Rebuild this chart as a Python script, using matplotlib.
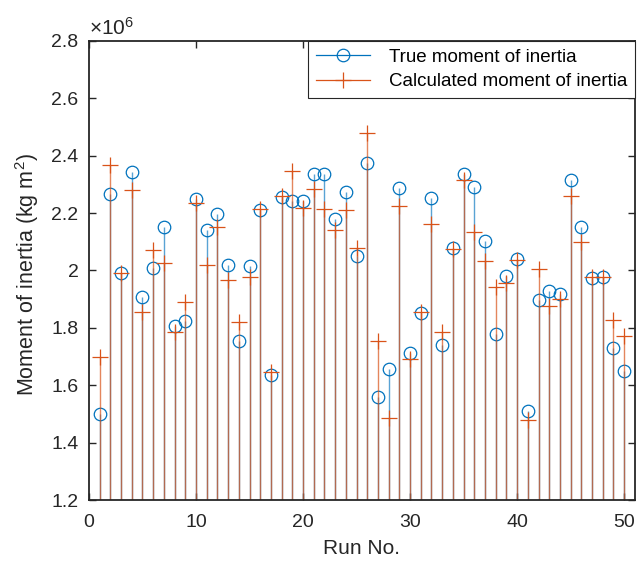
import matplotlib
matplotlib.use('Agg')
import matplotlib.pyplot as plt
from matplotlib.lines import Line2D
from matplotlib.legend_handler import HandlerLine2D
from matplotlib.ticker import FuncFormatter
import numpy as np

plt.rcParams['font.family'] = ['Liberation Sans', 'DejaVu Sans']
plt.rcParams['mathtext.fontset'] = 'custom'
plt.rcParams['mathtext.rm'] = 'Liberation Sans'
plt.rcParams['mathtext.it'] = 'Liberation Sans:italic'

# values in units of 10^6 kg m^2
run_no = list(range(1, 51))
true_inertia = [1.500, 2.268, 1.992, 2.345, 1.907, 2.008, 2.151, 1.807, 1.824, 2.250,
                2.141, 2.196, 2.020, 1.755, 2.016, 2.210, 1.635, 2.256, 2.241, 2.241,
                2.336, 2.336, 2.178, 2.274, 2.052, 2.376, 1.559, 1.657, 2.287, 1.714,
                1.851, 2.252, 1.739, 2.077, 2.335, 2.292, 2.104, 1.780, 1.982, 2.041,
                1.510, 1.897, 1.929, 1.918, 2.314, 2.152, 1.975, 1.979, 1.729, 1.651]
calc_inertia = [1.700, 2.367, 1.992, 2.281, 1.855, 2.072, 2.027, 1.787, 1.891, 2.236,
                2.019, 2.152, 1.967, 1.822, 1.976, 2.214, 1.647, 2.259, 2.348, 2.217,
                2.285, 2.213, 2.141, 2.210, 2.080, 2.478, 1.753, 1.485, 2.225, 1.693,
                1.857, 2.161, 1.787, 2.075, 2.316, 2.133, 2.034, 1.944, 1.955, 2.037,
                1.479, 2.005, 1.877, 1.901, 2.261, 2.101, 1.976, 1.976, 1.827, 1.773]

BLUE = '#0072BD'
ORANGE = '#D95319'
AXIS_GREY = '#262626'


class HandlerMarkerAtEnd(HandlerLine2D):
    # MATLAB style legend: line with the marker at its right end
    def get_xdata(self, legend, xdescent, ydescent, width, height, fontsize):
        xdata, _ = super().get_xdata(legend, xdescent, ydescent, width, height, fontsize)
        return xdata, [xdata[-1]]


fig = plt.figure(figsize=(6.4, 5.66), dpi=100)
ax = fig.add_axes([0.139, 0.1166, 0.853, 0.811])

ax.vlines(run_no, 0, true_inertia, color=BLUE, linewidth=1.0, alpha=0.65)
ax.plot(run_no, true_inertia, linestyle='none', marker='o', markersize=9,
        markerfacecolor='none', markeredgecolor=BLUE, markeredgewidth=0.9)
ax.vlines(run_no, 0, calc_inertia, color=ORANGE, linewidth=1.0, alpha=0.7)
ax.plot(run_no, calc_inertia, linestyle='none', marker='+', markersize=11,
        color=ORANGE, markeredgewidth=0.9)

ax.set_xlim(0, 51)
ax.set_ylim(1.2, 2.8)
ax.set_xticks([0, 10, 20, 30, 40, 50])
ax.set_yticks(np.arange(1.2, 2.81, 0.2))
ax.yaxis.set_major_formatter(FuncFormatter(lambda v, p: f'{v:g}'))
ax.tick_params(direction='in', top=True, right=True, length=5, width=1,
               colors=AXIS_GREY, labelsize=14)
ax.tick_params(axis='x', pad=10)
ax.tick_params(axis='y', pad=7.5)
for spine in ax.spines.values():
    spine.set_color(AXIS_GREY)
    spine.set_linewidth(1.3)

ax.set_xlabel('Run No.', fontsize=15, color=AXIS_GREY)
ax.set_ylabel('Moment of inertia (kg m$^2$)', fontsize=15.5, color=AXIS_GREY)
ax.xaxis.set_label_coords(0.5, -0.085)
ax.yaxis.set_label_coords(-0.087, 0.49)
ax.text(0, 1.004, '×10$^6$', transform=ax.transAxes, fontsize=15,
        color=AXIS_GREY, ha='left', va='bottom')

handles = [
    Line2D([], [], color=BLUE, linewidth=0.9, marker='o', markersize=9,
           markerfacecolor='none', markeredgewidth=0.9),
    Line2D([], [], color=ORANGE, linewidth=0.9, marker='+', markersize=11,
           markeredgewidth=0.9),
]
leg = ax.legend(handles, ['True moment of inertia', 'Calculated moment of inertia'],
                loc='upper right', bbox_to_anchor=(1.0, 1.0), fontsize=13.5,
                fancybox=False, framealpha=1, edgecolor=AXIS_GREY,
                handlelength=2.9, handletextpad=1.0, borderpad=0.4,
                labelspacing=0.4, borderaxespad=0.0,
                handler_map={Line2D: HandlerMarkerAtEnd()})
leg.get_frame().set_linewidth(0.8)
for t in leg.get_texts():
    t.set_color('black')

fig.savefig('out.png', dpi=100)
